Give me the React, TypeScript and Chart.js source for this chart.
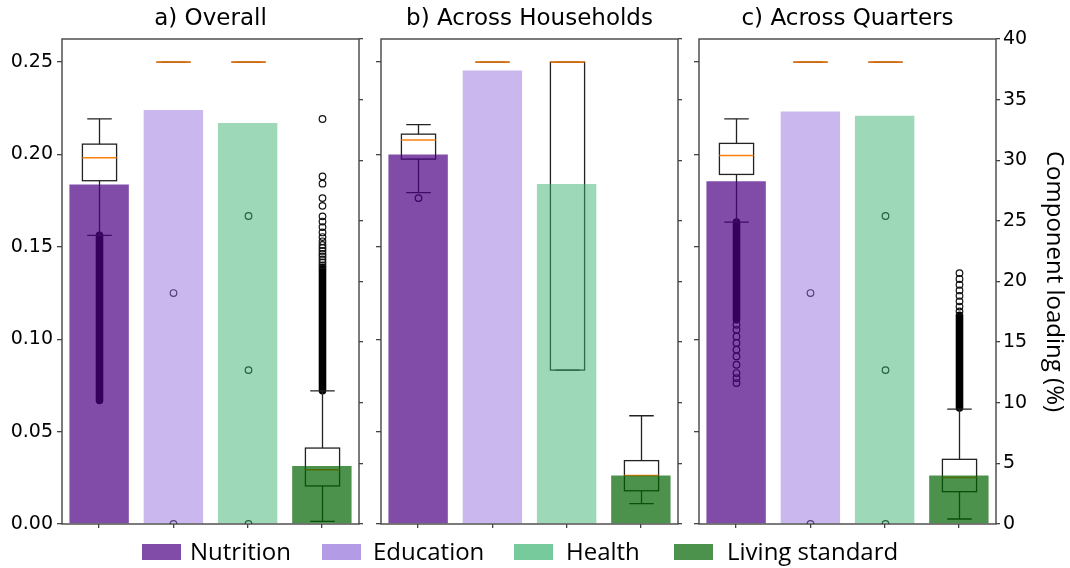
import React, { useEffect, useRef } from 'react';
import { Chart, registerables } from 'chart.js';

Chart.register(...registerables);

// ---------------- data ----------------
const categories = ['Nutrition', 'Education', 'Health', 'Living standard'];
const panelTitles = ['a) Overall', 'b) Across Households', 'c) Across Quarters'];
const leftTicks = [0, 0.05, 0.1, 0.15, 0.2, 0.25];
const rightTicks = [0, 5, 10, 15, 20, 25, 30, 35, 40];
const rightAxisTitle = 'Component loading (%)';

// component loadings (%), right axis
const overallLoading = [28.0, 34.15, 33.08, 4.79];
const householdLoading = [30.47, 37.41, 28.04, 4.01];
const quarterLoading = [28.27, 34.02, 33.66, 4.01];

// boxplot stats per category: [lower whisker, Q1, median, Q3, upper whisker], left axis
const overallBox = [
  [0.1562, 0.1858, 0.1982, 0.2056, 0.2193],
  [0.25, 0.25, 0.25, 0.25, 0.25],
  [0.25, 0.25, 0.25, 0.25, 0.25],
  [0.0014, 0.0206, 0.0294, 0.0411, 0.0721],
];
const householdBox = [
  [0.1793, 0.1975, 0.2078, 0.211, 0.2162],
  [0.25, 0.25, 0.25, 0.25, 0.25],
  [0.0833, 0.0833, 0.25, 0.25, 0.25],
  [0.011, 0.018, 0.0262, 0.0343, 0.0586],
];
const quarterBox = [
  [0.1634, 0.1892, 0.1995, 0.206, 0.2193],
  [0.25, 0.25, 0.25, 0.25, 0.25],
  [0.25, 0.25, 0.25, 0.25, 0.25],
  [0.0027, 0.0175, 0.0251, 0.035, 0.0622],
];

// individually visible outliers
const overallOutliers = [
  [],
  [0.125, 0.0],
  [0.1667, 0.0833, 0.0],
  [0.2192, 0.1881, 0.1842, 0.1764, 0.1722, 0.1665, 0.1637, 0.1607, 0.1578, 0.1553, 0.153, 0.151, 0.1494, 0.1478, 0.1462, 0.1448, 0.1432, 0.1416, 0.14],
];
const householdOutliers = [[0.1764], [], [], []];
const quarterOutliers = [
  [0.1078, 0.1051, 0.1015, 0.098, 0.0943, 0.0907, 0.0862, 0.0817, 0.079, 0.0763],
  [0.125, 0.0],
  [0.1667, 0.0833, 0.0],
  [0.1358, 0.1326, 0.1295, 0.1264, 0.1235, 0.1205, 0.1177, 0.115],
];

// ranges where outliers overlap into a continuous band [from, to]
const overallDense = [[0.0669, 0.1562], null, null, [0.0721, 0.139]];
const householdDense = [null, null, null, null];
const quarterDense = [[0.1106, 0.1634], null, null, [0.0628, 0.113]];

const loadings = [overallLoading, householdLoading, quarterLoading];
const boxes = [overallBox, householdBox, quarterBox];
const outliers = [overallOutliers, householdOutliers, quarterOutliers];
const denses = [overallDense, householdDense, quarterDense];

// ---------------- styles ----------------
const barColors = ['rgba(75,0,130,0.7)', 'rgba(147,112,219,0.5)', 'rgba(60,179,113,0.5)', 'rgba(0,100,0,0.7)'];
const legendColors = ['rgba(75,0,130,0.7)', 'rgba(147,112,219,0.7)', 'rgba(60,179,113,0.7)', 'rgba(0,100,0,0.7)'];
const spineColor = '#444';

const panelLayout = [
  { left: 0, width: 370, leftW: 62, rightW: 11 },
  { left: 370, width: 320, leftW: 11, rightW: 12 },
  { left: 690, width: 380, leftW: 9, rightW: 74 },
];

const legendPos = [
  { box: 142, text: 190 },
  { box: 322, text: 373 },
  { box: 514, text: 566 },
  { box: 674, text: 727 },
];

const boxPlugin = {
  id: 'boxes',
  beforeDatasetsDraw(chart: any, _args: any, opts: any) {
    const { ctx, chartArea, scales } = chart;
    const xs = scales.x;
    const ys = scales.y;
    const p = opts.panel;
    if (!p) return;
    ctx.save();
    ctx.beginPath();
    ctx.rect(chartArea.left, chartArea.top, chartArea.right - chartArea.left, chartArea.bottom - chartArea.top);
    ctx.clip();
    const step = xs.getPixelForValue(1) - xs.getPixelForValue(0);
    const bw = step * 0.46;
    const cw = step * 0.33;
    p.box.forEach((s: number[], i: number) => {
      const cx = Math.round(xs.getPixelForValue(i)) + 0.5;
      const [lo, q1, med, q3, hi] = s.map((v) => ys.getPixelForValue(v));
      const d = p.dense[i];
      if (d) {
        ctx.strokeStyle = '#000';
        ctx.lineWidth = 7.6;
        ctx.lineCap = 'round';
        ctx.beginPath();
        ctx.moveTo(cx, ys.getPixelForValue(d[0]));
        ctx.lineTo(cx, ys.getPixelForValue(d[1]));
        ctx.stroke();
      }
      ctx.lineCap = 'butt';
      ctx.strokeStyle = '#111';
      ctx.lineWidth = 1.2;
      p.out[i].forEach((v: number) => {
        ctx.beginPath();
        ctx.arc(cx, ys.getPixelForValue(v), 3.3, 0, Math.PI * 2);
        ctx.stroke();
      });
      ctx.strokeStyle = '#222';
      ctx.lineWidth = 1.3;
      ctx.beginPath();
      ctx.moveTo(cx, q1);
      ctx.lineTo(cx, lo);
      ctx.moveTo(cx, q3);
      ctx.lineTo(cx, hi);
      ctx.moveTo(cx - cw / 2, lo);
      ctx.lineTo(cx + cw / 2, lo);
      ctx.moveTo(cx - cw / 2, hi);
      ctx.lineTo(cx + cw / 2, hi);
      ctx.stroke();
      ctx.strokeRect(cx - bw / 2, q3, bw, q1 - q3);
      ctx.strokeStyle = '#ff7f0e';
      ctx.lineWidth = 1.5;
      ctx.beginPath();
      ctx.moveTo(cx - bw / 2, med);
      ctx.lineTo(cx + bw / 2, med);
      ctx.stroke();
    });
    ctx.restore();
  },
};

const framePlugin = {
  id: 'frame',
  afterDatasetsDraw(chart: any) {
    const { ctx, chartArea } = chart;
    ctx.save();
    ctx.strokeStyle = spineColor;
    ctx.lineWidth = 1.4;
    ctx.strokeRect(chartArea.left, chartArea.top, chartArea.right - chartArea.left, chartArea.bottom - chartArea.top);
    ctx.restore();
  },
};

function Panel({ idx }: { idx: number }) {
  const ref = useRef<HTMLCanvasElement | null>(null);
  const lay = panelLayout[idx];
  useEffect(() => {
    if (!ref.current) return;
    const tickFont = { family: 'DejaVu Sans', size: 19 };
    const chart = new Chart(ref.current, {
      type: 'bar',
      data: {
        labels: categories,
        datasets: [
          {
            data: loadings[idx],
            backgroundColor: barColors,
            borderWidth: 0,
            yAxisID: 'y1',
            barPercentage: 0.8,
            categoryPercentage: 1,
          } as any,
        ],
      },
      options: {
        responsive: false,
        animation: false,
        devicePixelRatio: 1,
        layout: { padding: 0 },
        plugins: {
          legend: { display: false },
          tooltip: { enabled: false },
          title: {
            display: true,
            text: panelTitles[idx],
            fullSize: false,
            color: '#000',
            font: { family: 'DejaVu Sans', size: 23, weight: 'normal' },
            padding: { top: 5, bottom: 6.4 },
          },
          boxes: { panel: { box: boxes[idx], out: outliers[idx], dense: denses[idx] } },
        } as any,
        scales: {
          x: {
            type: 'category',
            offset: true,
            grid: { offset: false, drawOnChartArea: false, drawTicks: true, tickLength: 4, color: spineColor, lineWidth: 1.3 },
            border: { display: false },
            ticks: { display: false },
            afterFit: (s: any) => {
              s.height = 44;
            },
          },
          y: {
            type: 'linear',
            position: 'left',
            min: 0,
            max: 0.2625,
            afterBuildTicks: (s: any) => {
              s.ticks = leftTicks.map((v) => ({ value: v }));
            },
            grid: { drawOnChartArea: false, drawTicks: true, tickLength: 5, color: spineColor, lineWidth: 1.3 },
            border: { display: false },
            ticks: {
              display: idx === 0,
              color: '#000',
              font: tickFont,
              padding: 4,
              callback: (v: any) => Number(v).toFixed(2),
            },
            afterFit: (s: any) => {
              s.width = lay.leftW;
            },
          },
          y1: {
            type: 'linear',
            position: 'right',
            min: 0,
            max: 40,
            afterBuildTicks: (s: any) => {
              s.ticks = rightTicks.map((v) => ({ value: v }));
            },
            grid: { drawOnChartArea: false, drawTicks: true, tickLength: 4, color: spineColor, lineWidth: 1.3 },
            border: { display: false },
            ticks: {
              display: idx === 2,
              color: '#000',
              font: tickFont,
              padding: 3,
              callback: (v: any) => String(v),
            },
            title: {
              display: idx === 2,
              text: rightAxisTitle,
              color: '#000',
              font: { family: 'Open Sans', size: 24 },
              padding: { top: 2, bottom: 0 },
            },
            afterFit: (s: any) => {
              s.width = lay.rightW;
            },
          },
        } as any,
      },
      plugins: [boxPlugin, framePlugin],
    });
    return () => chart.destroy();
  }, [idx]);
  return (
    <canvas
      ref={ref}
      width={lay.width}
      height={568}
      style={{ position: 'absolute', left: lay.left, top: 0, width: lay.width, height: 568, display: 'block' }}
    />
  );
}

export default function App() {
  return (
    <div style={{ position: 'fixed', left: 0, top: 0, width: 1070, height: 568, background: '#fff', overflow: 'hidden' }}>
      <Panel idx={0} />
      <Panel idx={1} />
      <Panel idx={2} />
      {categories.map((c, i) => (
        <React.Fragment key={c}>
          <div
            style={{
              position: 'absolute',
              left: legendPos[i].box,
              top: 544,
              width: 39,
              height: 16,
              background: legendColors[i],
            }}
          />
          <div
            style={{
              position: 'absolute',
              left: legendPos[i].text,
              top: 537,
              height: 28,
              lineHeight: '28px',
              fontFamily: '"Open Sans", sans-serif',
              fontSize: 24,
              color: '#000',
              whiteSpace: 'nowrap',
            }}
          >
            {c}
          </div>
        </React.Fragment>
      ))}
    </div>
  );
}
